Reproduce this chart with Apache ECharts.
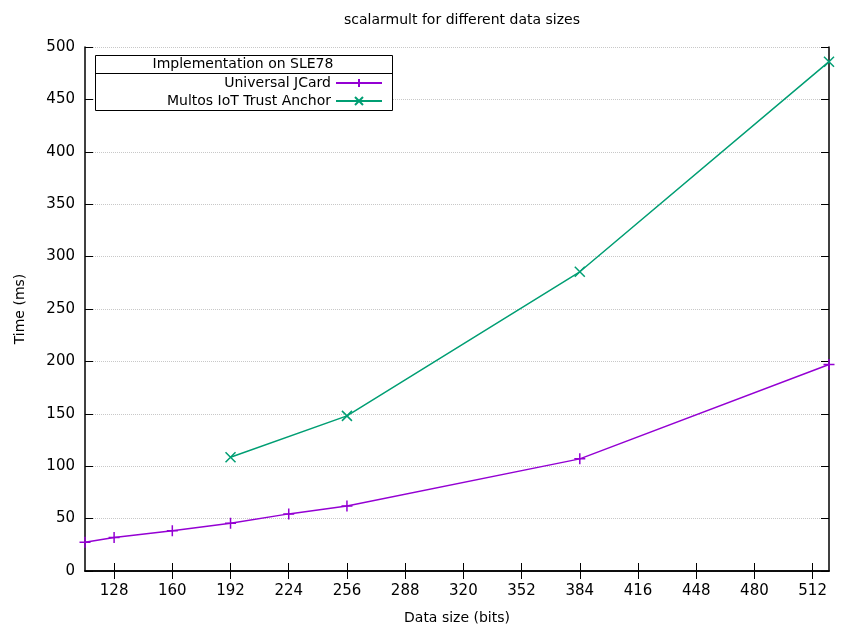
<!DOCTYPE html>
<html>
<head>
<meta charset="utf-8">
<script src="https://cdn.jsdelivr.net/npm/echarts@6/dist/echarts.min.js"></script>
<style>
  html, body { margin: 0; padding: 0; background: #fff; }
  #chart { width: 841px; height: 624px; }
</style>
</head>
<body>
<div id="chart"></div>
<script>
// data
var jcardX = [112, 128, 160, 192, 224, 256, 384, 521];
var jcardY = [27.5, 32, 38.5, 45.5, 54.5, 62, 107, 197];
var multosX = [192, 256, 384, 521];
var multosY = [108.5, 148, 285.5, 486];
var xTicks = [128, 160, 192, 224, 256, 288, 320, 352, 384, 416, 448, 480, 512];

var font = '"DejaVu Sans", "Liberation Sans", sans-serif';
var plus = 'path://M0,5 L10,5 M5,0 L5,10';
var cross = 'path://M0,0 L10,10 M0,10 L10,0';

function pairs(xs, ys) {
  return xs.map(function (x, i) { return [x, ys[i]]; });
}

var myChart = echarts.init(document.getElementById('chart'));
var tickStyle = { show: true, inside: true, length: 8, lineStyle: { color: '#000', width: 1 } };

var option = {
  backgroundColor: '#fff',
  animation: false,
  textStyle: { fontFamily: font, color: '#000' },
  title: {
    text: 'scalarmult for different data sizes',
    left: 457, top: 8, textAlign: 'center',
    textStyle: { fontFamily: font, fontSize: 14, fontWeight: 'normal', color: '#000' }
  },
  grid: { left: 85, right: 12, top: 47, bottom: 53, outerBoundsMode: 'none', containLabel: false },
  xAxis: [{
    type: 'value', min: 112, max: 521,
    name: 'Data size (bits)', nameLocation: 'middle', nameGap: 40,
    nameTextStyle: { fontFamily: font, fontSize: 14, color: '#000' },
    axisLine: { show: true, lineStyle: { color: '#000', width: 1.5 } },
    axisTick: Object.assign({ customValues: xTicks }, tickStyle),
    axisLabel: { customValues: xTicks, fontFamily: font, fontSize: 15, color: '#000', margin: 13 },
    splitLine: { show: false }
  }, {
    type: 'value', min: 112, max: 521, position: 'top',
    axisLine: { show: true, lineStyle: { color: '#000', width: 1.5 } },
    axisTick: Object.assign({ customValues: xTicks }, tickStyle),
    axisLabel: { show: false },
    splitLine: { show: false }
  }],
  yAxis: [{
    type: 'value', min: 0, max: 500, interval: 50,
    name: 'Time (ms)', nameLocation: 'middle', nameGap: 58, nameRotate: 90,
    nameTextStyle: { fontFamily: font, fontSize: 14, color: '#000' },
    axisLine: { show: true, lineStyle: { color: '#000', width: 1.5 } },
    axisTick: tickStyle,
    axisLabel: { fontFamily: font, fontSize: 15, color: '#000', margin: 10 },
    splitLine: { show: true, lineStyle: { color: '#c8c8c8', type: [1, 1], width: 1 } }
  }, {
    type: 'value', min: 0, max: 500, interval: 50, position: 'right',
    axisLine: { show: true, lineStyle: { color: '#000', width: 1.5 } },
    axisTick: tickStyle,
    axisLabel: { show: false },
    splitLine: { show: false }
  }],
  legend: [{
    data: ['Universal JCard'], orient: 'vertical', align: 'right', z: 100,
    right: 458, top: 76, itemWidth: 46, itemHeight: 10, itemGap: 4, padding: 0,
    textStyle: { fontFamily: font, fontSize: 14, color: '#000' }
  }, {
    data: ['Multos IoT Trust Anchor'], orient: 'vertical', align: 'right', z: 100,
    right: 458, top: 94, itemWidth: 46, itemHeight: 10, itemGap: 4, padding: 0,
    textStyle: { fontFamily: font, fontSize: 14, color: '#000' }
  }],
  graphic: [
    { type: 'rect', left: 95, top: 55, shape: { width: 297, height: 55 },
      style: { fill: '#fff', stroke: '#000', lineWidth: 1 }, z: 10 },
    { type: 'line', shape: { x1: 95, y1: 73.5, x2: 392, y2: 73.5 },
      style: { stroke: '#000', lineWidth: 1 }, z: 11 },
    { type: 'text', x: 243, y: 64.5, z: 11,
      style: { text: 'Implementation on SLE78', fontFamily: font, fontSize: 14,
        fill: '#000', align: 'center', verticalAlign: 'middle' } }
  ],
  series: [{
    name: 'Universal JCard', type: 'line',
    data: pairs(jcardX, jcardY),
    symbol: plus, symbolSize: 11,
    lineStyle: { color: '#9400d3', width: 1.5 },
    itemStyle: { color: '#9400d3', borderColor: '#9400d3', borderWidth: 1.5 },
    z: 5
  }, {
    name: 'Multos IoT Trust Anchor', type: 'line',
    data: pairs(multosX, multosY),
    symbol: cross, symbolSize: 10,
    lineStyle: { color: '#009e73', width: 1.5 },
    itemStyle: { color: '#009e73', borderColor: '#009e73', borderWidth: 1.5 },
    z: 5
  }]
};
myChart.setOption(option);
</script>
</body>
</html>
